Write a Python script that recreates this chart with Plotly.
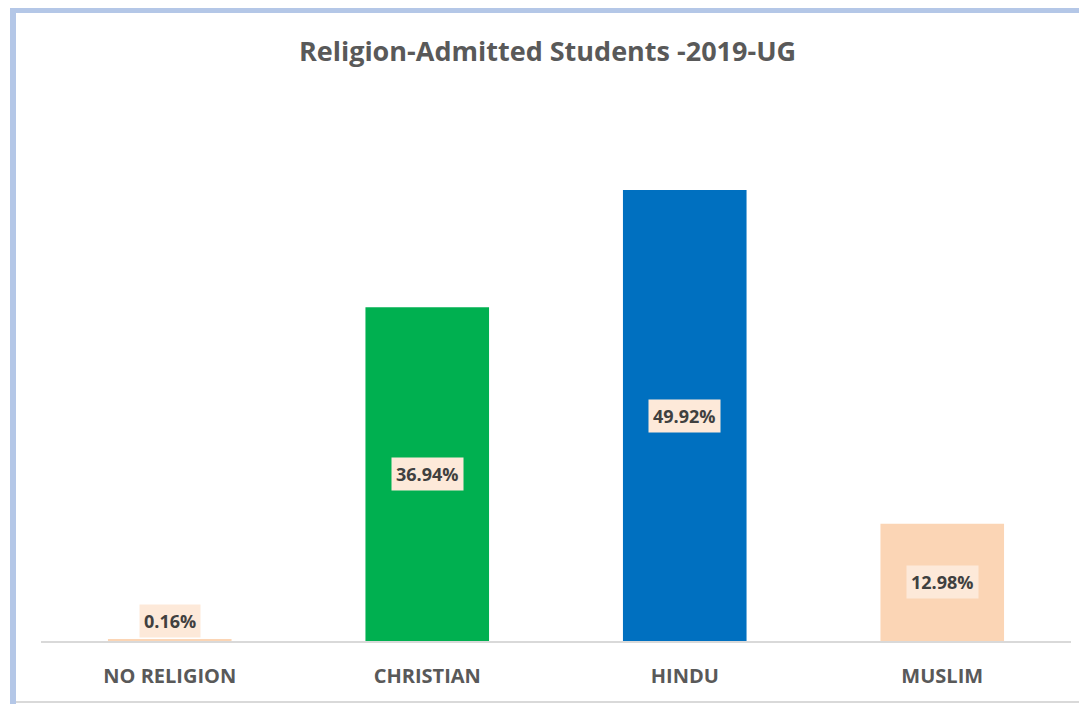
import plotly.graph_objects as go

categories = ["NO RELIGION", "CHRISTIAN", "HINDU", "MUSLIM"]
values = [0.16, 36.94, 49.92, 12.98]
labels = ["0.16%", "36.94%", "49.92%", "12.98%"]
colors = ["#FBD5B5", "#00B050", "#0070C0", "#FBD5B5"]

OFF = 8  # page body margin
W, H = 1087 - OFF, 704 - OFF
ml, mr, mt, mb = 41 - OFF, 16, 99 - OFF, 63
pw = W - ml - mr
ph = H - mt - mb
ymax = 60
FONT = "Open Sans, Lato, sans-serif"

fig = go.Figure()
fig.add_trace(go.Bar(
    x=categories, y=values, marker=dict(color=colors, line=dict(width=0)),
    width=0.48, hoverinfo="skip", showlegend=False,
))

min_label = 20 / ph * ymax  # keep label of tiny bar above axis
for c, v, t in zip(categories, values, labels):
    fig.add_annotation(
        x=c, y=max(v / 2, min_label), text=t, showarrow=False,
        font=dict(family=FONT, size=18, color="#404040", weight="bold"),
        bgcolor="#FDE9D9", borderpad=4, xref="x", yref="y",
    )

def px_x(p):
    return (p - OFF - ml) / pw

def px_y(p):
    return (H + OFF - mb - p) / ph

# outer chart frame
fig.add_shape(type="line", xref="paper", yref="paper",
              x0=px_x(13), x1=px_x(13), y0=px_y(720), y1=px_y(8),
              line=dict(color="#B4C7E7", width=6))
fig.add_shape(type="line", xref="paper", yref="paper",
              x0=px_x(10), x1=px_x(1100), y0=px_y(10), y1=px_y(10),
              line=dict(color="#B4C7E7", width=6))
fig.add_shape(type="line", xref="paper", yref="paper",
              x0=px_x(16), x1=px_x(1100), y0=px_y(702), y1=px_y(702),
              line=dict(color="#D9D9D9", width=2))

fig.update_layout(
    width=W, height=H,
    margin=dict(l=ml, r=mr, t=mt, b=mb),
    paper_bgcolor="white", plot_bgcolor="white",
    title=dict(text="<b>Religion-Admitted Students -2019-UG</b>", x=0.5, xanchor="center",
               y=1 - (52 - OFF) / H, yanchor="middle",
               font=dict(family=FONT, size=27, color="#595959")),
    xaxis=dict(showline=True, linecolor="#D9D9D9", linewidth=2, ticks="",
               tickfont=dict(family=FONT, size=20, color="#595959", weight="bold"),
               ticklabelstandoff=16,
               showgrid=False, zeroline=False),
    yaxis=dict(range=[0, ymax], visible=False, showgrid=False, zeroline=False),
    bargap=0.52,
)

fig.write_html("out.html")
